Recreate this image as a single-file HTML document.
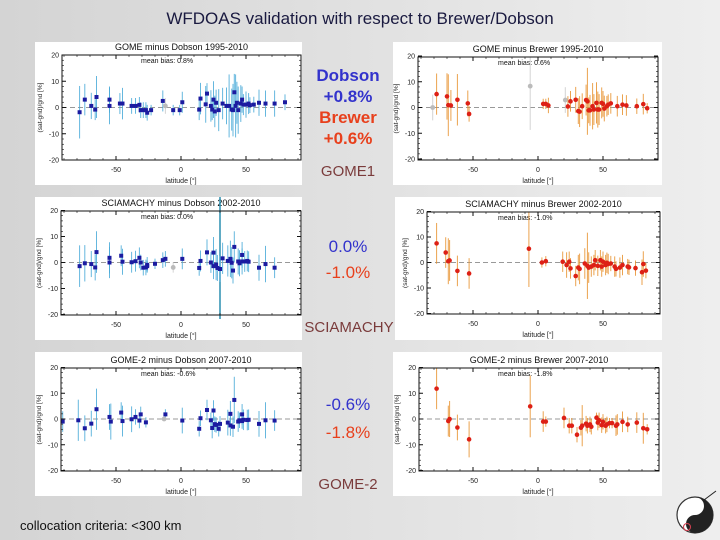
<!DOCTYPE html>
<html><head><meta charset="utf-8"><style>
html,body{margin:0;padding:0;}
body{width:720px;height:540px;overflow:hidden;background:linear-gradient(to right,#d4d4d4,#eeeeee);font-family:"Liberation Sans",sans-serif;position:relative;}
.t{position:absolute;white-space:nowrap;}
</style></head><body>
<div class="t" style="left:0;width:720px;text-align:center;top:9px;font-size:17px;color:#1a1a40;">WFDOAS validation with respect to Brewer/Dobson</div>
<div class="t" style="left:305px;width:86px;text-align:center;top:65px;font-size:17px;font-weight:bold;color:#3333cc;line-height:21px;">Dobson<br>+0.8%</div>
<div class="t" style="left:305px;width:86px;text-align:center;top:107px;font-size:17px;font-weight:bold;color:#e8401c;line-height:21px;">Brewer<br>+0.6%</div>
<div class="t" style="left:305px;width:86px;text-align:center;top:163px;font-size:15px;color:#7a3b3b;">GOME1</div>
<div class="t" style="left:305px;width:86px;text-align:center;top:237px;font-size:17px;color:#3333cc;">0.0%</div>
<div class="t" style="left:305px;width:86px;text-align:center;top:263px;font-size:17px;color:#e8401c;">-1.0%</div>
<div class="t" style="left:300px;width:98px;text-align:center;top:319px;font-size:15px;color:#7a3b3b;">SCIAMACHY</div>
<div class="t" style="left:305px;width:86px;text-align:center;top:395px;font-size:17px;color:#3333cc;">-0.6%</div>
<div class="t" style="left:305px;width:86px;text-align:center;top:423px;font-size:17px;color:#e8401c;">-1.8%</div>
<div class="t" style="left:305px;width:86px;text-align:center;top:476px;font-size:15px;color:#7a3b3b;">GOME-2</div>
<div class="t" style="left:20px;top:518px;font-size:13px;color:#111;">collocation criteria: &lt;300 km</div>
<svg id="chart" width="720" height="540" style="position:absolute;left:0;top:0;" xmlns="http://www.w3.org/2000/svg">
<g>
<circle cx="695" cy="515" r="18" fill="#fff" stroke="#333" stroke-width="1.2"/>
<path d="M695 497 A18 18 0 0 1 695 533 A9 9 0 0 1 695 515 A9 9 0 0 0 695 497Z" fill="#222"/>
<circle cx="687" cy="527" r="3.5" fill="none" stroke="#d04050" stroke-width="1.1"/>
<line x1="704" y1="500" x2="716" y2="491" stroke="#222"/>
</g>
</svg>
<script>
// Panel 1: GOME minus Dobson
const p1Lat=[-78,-74,-69,-66,-65,-55,-55,-47,-45,-38,-35,-32,-31,-29,-27,-26,-23,-14,-12,-6,-1,1,14,15,19,20,23,24,25,26,27,29,32,35,37,39,40,41,42,43,44,46,47,48,50,52,53,56,60,65,72,80];
const p1Val=[-1.8,3,0.6,-0.8,4,3,0.6,1.5,1.5,0.6,0.6,1,-1,-1,-1,-2,-1,2.5,0.6,-1,-1,2,-0.8,3.4,1.2,5.3,0.6,-0.8,3,-1.5,1.8,-1,1.5,0.6,0.6,-0.8,-1,5.8,0.6,1.8,-1,1.5,3,1.1,1.1,1.5,0.9,1.1,1.8,1.5,1.5,2];
const p1Err=[10,6,5,4,8,5,7,4,6,3,3,3,3,3,3,3,2,4,3,2,2,4,4,6,7,4,6,4,7,6,5,8,6,7,12,8,10,7,12,8,9,7,5,4,5,4,3,3,5,5,5,3];
const p1Gray=[-12];
// Panel 2: GOME minus Brewer
const p2Lat=[-81,-78,-70,-69,-67,-62,-54,-53,-6,4,6,8,21,23,25,29,31,32,34,37,38,39,40,42,43,45,46,47,49,50,51,53,54,56,61,65,68,76,81,84];
const p2Val=[0,5.2,4.3,0.9,0.8,3,1.6,-2.5,8.3,1.4,1.4,0.8,2.9,0.4,2.4,3,-1.4,-1.6,0.5,2.9,2.4,-1.1,-1.1,0.5,-0.8,1.8,-0.8,-0.8,1.8,1.4,-0.4,0.5,1.1,1.6,0.5,1.1,0.8,0.5,1.3,-0.3];
const p2Err=[5,8,9,12,6,10,5,3,17,2,2,3,5,4,4,5,5,6,5,6,13,5,6,9,6,8,7,6,6,5,5,4,4,4,4,4,4,3,4,2];
const p2Gray=[-81,-6,21];
// Panel 3: SCIAMACHY minus Dobson
const p3Lat=[-78,-74,-69,-66,-65,-55,-55,-46,-45,-38,-35,-32,-31,-29,-27,-26,-26,-20,-14,-12,-6,1,14,15,20,23,25,25,27,28,30,32,36,38,39,40,41,44,45,47,47,49,51,52,60,65,72];
const p3Val=[-1.4,-0.3,-0.6,-1.9,4,1.8,0,2.6,0.3,0.1,0.5,1.8,0,-2,-1.9,-0.9,-1.4,-0.5,0.9,1.4,-1.9,1.4,-2.1,0.6,3.9,0,3.8,-1.4,-0.8,-2.1,-2.5,1.6,0.6,1.4,-0.1,-3.1,6,0.4,-0.3,2.9,0.4,0.4,0.6,0.3,-2,-0.6,-2];
const p3Err=[8,7,5,5,8,6,6,4,5,4,4,4,3,3,3,3,2,2,3,3,2,4,3,4,5,4,6,5,6,5,5,6,6,7,6,5,6,5,5,5,5,4,4,4,5,7,4];
const p3Gray=[-6];
// Panel 4: SCIAMACHY minus Brewer
const p4Lat=[-78,-71,-69,-68,-62,-53,-7,3,6,19,22,24,25,29,31,32,36,38,39,41,43,44,46,48,49,50,52,53,54,56,59,60,63,65,69,70,75,80,81,83];
const p4Val=[7.5,3.9,0.5,0.8,-3.3,-4.3,5.4,0,0.5,0.3,-1,0.3,-2.3,-5.3,-2,-2.5,-0.4,-1.3,-2,-1.6,-1,0.9,-1.3,0.9,-1.6,0.3,-1,-0.1,-0.6,-0.4,-1.6,-2.5,-2,-1,-1.6,-1.9,-2.2,-3.8,-0.6,-3.2];
const p4Err=[8,6,9,8,6,6,15,2,2,4,5,4,4,4,5,6,6,13,6,4,4,4,4,4,4,4,4,4,4,3,4,3,4,4,3,3,3,5,5,3];
// Panel 5: GOME-2 minus Dobson
const p5Lat=[-91,-79,-74,-69,-65,-55,-54,-46,-45,-38,-35,-32,-31,-27,-12,1,14,15,20,23,24,25,26,27,29,30,36,38,38,40,41,44,45,47,47,48,51,52,60,65,72];
const p5Val=[-1,-0.5,-3.6,-1.8,3.8,0.8,-1,2.5,-0.8,-0.1,0.8,-0.6,1.8,-1.3,1.8,-0.6,-3.8,0.3,3.5,-0.5,-3.5,3.3,-2,-2.3,-3.8,-1.9,-1.4,2,-2.5,-3,7.4,-1,-0.5,1.8,-0.8,-0.3,-0.4,-0.3,-1.9,-0.5,-0.6];
const p5Err=[4,8,5,5,8,5,7,4,6,5,3,3,3,2,2,5,3,3,4,3,4,4,3,3,3,3,5,5,4,4,9,4,3,4,3,4,4,4,5,7,4];
const p5Gray=[-13];
// Panel 6: GOME-2 minus Brewer
const p6Lat=[-78,-69,-68,-62,-53,-6,4,6,20,24,26,30,33,34,37,38,40,41,45,46,47,49,50,52,53,55,57,60,61,65,69,76,81,84];
const p6Val=[11.8,-0.8,0,-3.3,-7.9,4.9,-1,-1,0.4,-2.6,-2.6,-6.1,-3.4,-2.6,-1.8,-2.6,-2.1,-3,0.5,-1.4,-0.5,-2.4,-1.1,-2.6,-2.1,-1.6,-1.6,-2.6,-2.1,-1.1,-2.1,-1.4,-3.6,-4];
const p6Err=[8,6,7,5,7,12,4,2,4,3,3,3,3,8,3,3,3,3,2,3,3,3,3,3,3,2,2,4,4,4,3,4,6,2];
const tickLabels=['20','10','0','-10','-20'];
const tickVals=[20,10,0,-10,-20];
const xTickVals=[-50,0,50];

const NS='http://www.w3.org/2000/svg';
const svg=document.getElementById('chart');
function mk(tag,attrs,parent){const e=document.createElementNS(NS,tag);for(const k in attrs)e.setAttribute(k,attrs[k]);(parent||svg).appendChild(e);return e;}

const panels=[
 {name:'gome-dobson',title:'GOME minus Dobson 1995-2010',bias:'mean bias: 0.8%',bg:[35,42,267,143],box:[62,55,301,160],cx:181,zy:107.5,lat:p1Lat,val:p1Val,err:p1Err,gray:p1Gray,type:'d'},
 {name:'gome-brewer',title:'GOME minus Brewer 1995-2010',bias:'mean bias: 0.6%',bg:[393,42,269,143],box:[418,57,658,160],cx:538,zy:107.5,lat:p2Lat,val:p2Val,err:p2Err,gray:p2Gray,type:'b'},
 {name:'sciamachy-dobson',title:'SCIAMACHY minus Dobson 2002-2010',bias:'mean bias: 0.0%',bg:[35,197,267,143],box:[61,211,301,315],cx:181,zy:262.5,lat:p3Lat,val:p3Val,err:p3Err,gray:p3Gray,type:'d',vline:30},
 {name:'sciamachy-brewer',title:'SCIAMACHY minus Brewer 2002-2010',bias:'mean bias: -1.0%',bg:[395,197,267,143],box:[427,212,660,314],cx:538,zy:262.5,lat:p4Lat,val:p4Val,err:p4Err,gray:[],type:'b'},
 {name:'gome2-dobson',title:'GOME-2 minus Dobson 2007-2010',bias:'mean bias: -0.6%',bg:[35,352,267,144],box:[61,368,301,471],cx:181,zy:419,lat:p5Lat,val:p5Val,err:p5Err,gray:p5Gray,type:'d'},
 {name:'gome2-brewer',title:'GOME-2 minus Brewer 2007-2010',bias:'mean bias: -1.8%',bg:[393,352,269,144],box:[419,368,659,471],cx:538,zy:419,lat:p6Lat,val:p6Val,err:p6Err,gray:[],type:'b'}
];

panels.forEach(p=>{
 const g=mk('g',{});
 
 
 const [bx0,by0,bx1,by1]=p.box;
 const ppu=(by1-by0)/40;
 const xs=lat=>p.cx+lat*1.3;
 const ys=v=>p.zy-v*ppu;
 const clampY=y=>Math.max(by0,Math.min(by1,y));
 mk('rect',{x:p.bg[0],y:p.bg[1],width:p.bg[2],height:p.bg[3],fill:'#fff'},g);
 const title=mk('text',{x:(bx0+bx1)/2,y:by0-5,'font-size':9,'text-anchor':'middle',fill:'#111','font-family':'Liberation Sans, sans-serif'},g);
 title.textContent=p.title;
 
 
 const bias=mk('text',{x:p.cx-40,y:by0+8,'font-size':7,fill:'#111','font-family':'Liberation Sans, sans-serif'},g);
 bias.textContent=p.bias;
 
 
 const zl=mk('line',{x1:bx0,x2:bx1,y1:ys(0),y2:ys(0),stroke:'#999','stroke-width':1,'stroke-dasharray':'5,3'},g);
 
 
 if(p.vline!==undefined){
  const vl=mk('line',{x1:xs(p.vline),x2:xs(p.vline),y1:by0-14,y2:by1+4,stroke:'#2a8fb0','stroke-width':1.5},g);
  
  
 }
 const barCol=p.type==='d'?'#4aaad8':'#e8922f';
 const mCol=p.type==='d'?'#1b1ba0':'#dd2015';
 p.lat.forEach((lat,i)=>{
  const e=p.err[i]||3;
  const isGray=p.gray.indexOf(lat)>=0;
  const eb=mk('line',{x1:xs(lat),x2:xs(lat),y1:clampY(ys(p.val[i]+e)),y2:clampY(ys(p.val[i]-e)),stroke:isGray?'#cccccc':barCol,'stroke-width':1,'stroke-opacity':0.85},g);
  
  
 });
 p.lat.forEach((lat,i)=>{
  if(p.gray.indexOf(lat)>=0) return;
  let m;
  if(p.type==='d') m=mk('rect',{x:xs(lat)-2,y:ys(p.val[i])-2,width:4,height:4,fill:mCol},g);
  else m=mk('circle',{cx:xs(lat),cy:ys(p.val[i]),r:2.3,fill:mCol},g);
  
  
 });
 p.gray.forEach(lat=>{
  const idx=p.lat.indexOf(lat);
  const v=idx>=0?p.val[idx]:0;
  const gp=mk('circle',{cx:xs(lat),cy:ys(v),r:2.4,fill:'#bbbbbb'},g);
  
  
 });
 const bx=mk('rect',{x:bx0,y:by0,width:bx1-bx0,height:by1-by0,fill:'none',stroke:'#111','stroke-width':1},g);
 
 
 tickVals.forEach((v,i)=>{
  mk('line',{x1:bx0,x2:bx0+4,y1:ys(v),y2:ys(v),stroke:'#111'},g);
  mk('line',{x1:bx1,x2:bx1-4,y1:ys(v),y2:ys(v),stroke:'#111'},g);
  const t=mk('text',{x:bx0-3,y:ys(v)+2.5,'font-size':7,'text-anchor':'end',fill:'#222','font-family':'Liberation Sans, sans-serif'},g);
  t.textContent=tickLabels[i];
  
  
 });
 for(let v=-18;v<=18;v+=2){mk('line',{x1:bx0,x2:bx0+2,y1:ys(v),y2:ys(v),stroke:'#111','stroke-width':0.6},g);mk('line',{x1:bx1,x2:bx1-2,y1:ys(v),y2:ys(v),stroke:'#111','stroke-width':0.6},g);}
 for(let l=-90;l<=90;l+=10){const x=xs(l);if(x<bx0||x>bx1)continue;const maj=l%50===0;mk('line',{x1:x,x2:x,y1:by1,y2:by1-(maj?4:2),stroke:'#111','stroke-width':maj?1:0.6},g);mk('line',{x1:x,x2:x,y1:by0,y2:by0+(maj?4:2),stroke:'#111','stroke-width':maj?1:0.6},g);}
 xTickVals.forEach(l=>{
  const t=mk('text',{x:xs(l),y:by1+12,'font-size':7,'text-anchor':'middle',fill:'#222','font-family':'Liberation Sans, sans-serif'},g);
  t.textContent=String(l);
  
  
 });
 const xt=mk('text',{x:p.cx,y:by1+23,'font-size':7,'text-anchor':'middle',fill:'#222','font-family':'Liberation Sans, sans-serif'},g);
 xt.textContent='latitude [°]';
 
 
 const yx=bx0-20, yy=(by0+by1)/2;
 const yt=mk('text',{x:yx,y:yy,'font-size':6.5,'text-anchor':'middle',fill:'#222',transform:'rotate(-90 '+yx+' '+yy+')','font-family':'Liberation Sans, sans-serif'},g);
 yt.textContent='(sat-gnd)/gnd [%]';
 
 
});
</script>
</body></html>
